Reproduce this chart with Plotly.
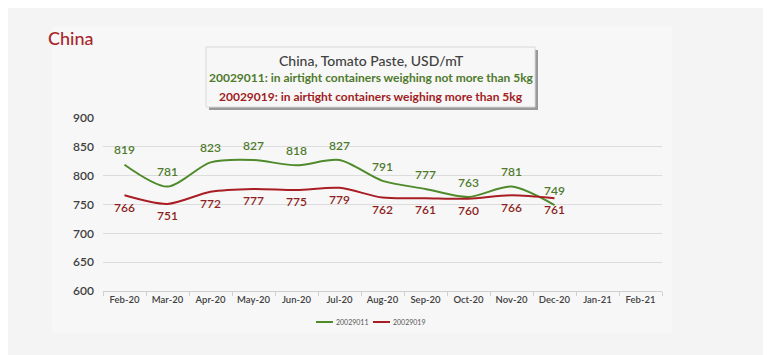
import plotly.graph_objects as go

months = ["Feb-20", "Mar-20", "Apr-20", "May-20", "Jun-20", "Jul-20", "Aug-20",
          "Sep-20", "Oct-20", "Nov-20", "Dec-20", "Jan-21", "Feb-21"]
data_months = months[:11]
series_names = ["20029011", "20029019"]
s_20029011 = [819, 781, 823, 827, 818, 827, 791, 777, 763, 781, 749]
s_20029019 = [766, 751, 772, 777, 775, 779, 762, 761, 760, 766, 761]
y_ticks = [600, 650, 700, 750, 800, 850, 900]

GREEN = "#4f8a2b"
RED = "#a81e24"
W, H = 771, 355
OFF = 8  # page body margin
L, R, T, B = 103 - OFF, 662 - OFF, 118 - OFF, 291 - OFF
FONT = "Lato"


def px(x):
    return (x - OFF - L) / (R - L)


def py(y):
    return (B - (y - OFF)) / (B - T)


fig = go.Figure()
fig.add_trace(go.Scatter(
    x=data_months, y=s_20029011, name=series_names[0], mode="lines+markers+text",
    line=dict(color=GREEN, width=2, shape="spline", smoothing=0.8),
    marker=dict(size=10, color="rgba(0,0,0,0)"), showlegend=False,
    text=[str(v) for v in s_20029011], textposition="top center",
    textfont=dict(color="#4e7a2c", size=12, family=FONT, weight=600),
))
fig.add_trace(go.Scatter(
    x=data_months, y=s_20029019, name=series_names[1], mode="lines+markers+text",
    line=dict(color=RED, width=2, shape="spline", smoothing=0.8),
    marker=dict(size=10, color="rgba(0,0,0,0)"), showlegend=False,
    text=[str(v) for v in s_20029019], textposition="bottom center",
    textfont=dict(color="#8e1f22", size=12, family=FONT, weight=600),
))

fig.update_layout(
    width=W, height=H,
    margin=dict(l=L, r=W - R, t=T, b=H - B),
    paper_bgcolor="#f4f4f4", plot_bgcolor="rgba(0,0,0,0)",
    font=dict(family=FONT, color="#404040"),
    xaxis=dict(type="category", categoryorder="array", categoryarray=months,
               range=[-0.5, 12.5], tickson="boundaries", ticks="outside", ticklen=4,
               tickcolor="#d0d0d0", showline=True, linecolor="#d0d0d0", linewidth=1,
               showgrid=False, tickfont=dict(size=9.5, color="#404040", weight=600),
               tickvals=months, ticktext=months),
    yaxis=dict(range=[600, 900], tickvals=y_ticks, showgrid=True, gridcolor="#dcdcdc",
               gridwidth=1, zeroline=False, showline=False, ticks="",
               tickfont=dict(size=12, color="#404040", weight=600), ticklabelstandoff=8),
)

# subtle chart panel
fig.add_shape(type="rect", xref="paper", yref="paper",
              x0=px(52), x1=px(672), y0=py(333), y1=py(26),
              fillcolor="#f7f7f7", line=dict(width=0), layer="below")
# title box shadow + box
fig.add_shape(type="rect", xref="paper", yref="paper",
              x0=px(209), x1=px(538), y0=py(110), y1=py(50),
              fillcolor="#9a9a9a", line=dict(width=0), layer="below")
fig.add_shape(type="rect", xref="paper", yref="paper",
              x0=px(206), x1=px(535), y0=py(107), y1=py(47),
              fillcolor="#f7f7f7", line=dict(color="#d8d8d8", width=1), layer="below")

fig.add_annotation(xref="paper", yref="paper", x=px(46), y=py(38), xanchor="left",
                   yanchor="middle", showarrow=False,
                   text="China", font=dict(size=18, color="#a8262c", family=FONT, weight=500))
fig.add_annotation(xref="paper", yref="paper", x=px(371), y=py(60), xanchor="center",
                   yanchor="middle", showarrow=False,
                   text="China, Tomato Paste, USD/mT",
                   font=dict(size=14, color="#404040", family=FONT, weight=500))
fig.add_annotation(xref="paper", yref="paper", x=px(371), y=py(78), xanchor="center",
                   yanchor="middle", showarrow=False,
                   text="20029011: in airtight containers weighing not more than 5kg",
                   font=dict(size=12, color="#4e7a2c", family=FONT, weight=700))
fig.add_annotation(xref="paper", yref="paper", x=px(371), y=py(96), xanchor="center",
                   yanchor="middle", showarrow=False,
                   text="20029019: in airtight containers weighing more than 5kg",
                   font=dict(size=12, color="#a01c22", family=FONT, weight=700))

# manual legend
for name, col, x0 in [(series_names[0], GREEN, 316), (series_names[1], RED, 373)]:
    fig.add_shape(type="line", xref="paper", yref="paper",
                  x0=px(x0), x1=px(x0 + 17), y0=py(322), y1=py(322),
                  line=dict(color=col, width=2))
    fig.add_annotation(xref="paper", yref="paper", x=px(x0 + 18), y=py(322),
                       xanchor="left", yanchor="middle", showarrow=False,
                       text=name, font=dict(size=7, color="#555555", family=FONT))

fig.write_html("out.html")
